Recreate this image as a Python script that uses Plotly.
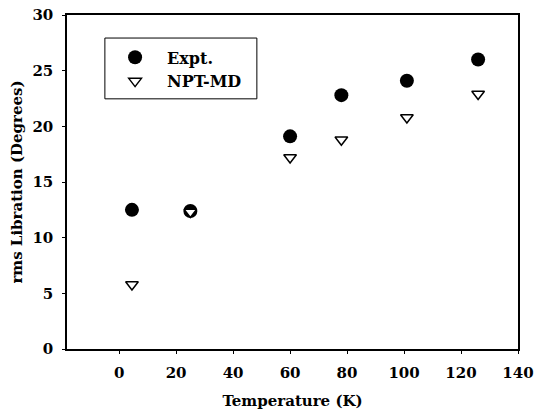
import plotly.graph_objects as go

temps = [4.5, 25, 60, 78, 101, 126]
expt = [12.5, 12.4, 19.1, 22.8, 24.1, 26.0]
npt_md = [5.8, 12.3, 17.2, 18.8, 20.8, 22.9]

x_ticks = [0, 20, 40, 60, 80, 100, 120, 140]
y_ticks = [0, 5, 10, 15, 20, 25, 30]

font_family = "DejaVu Serif, Liberation Serif, serif"

fig = go.Figure()
fig.add_trace(go.Scatter(
    x=temps, y=expt, mode="markers", name="<b>Expt.</b>",
    marker=dict(symbol="circle", size=14, color="black", line=dict(width=0)),
))
fig.add_trace(go.Scatter(
    x=temps, y=npt_md, mode="markers", name="<b>NPT-MD</b>",
    marker=dict(symbol="triangle-down", size=11, color="white",
                line=dict(width=1.5, color="black")),
))

axis_common = dict(
    showline=True, linecolor="black", linewidth=1.5, mirror=True,
    showgrid=False, zeroline=False, automargin=False,
    ticks="outside", ticklen=3, tickcolor="black",
    ticklabeloverflow="allow",
    tickfont=dict(family=font_family, size=15, color="black"),
)

# legend frame
fig.add_shape(type="rect", xref="paper", yref="paper",
              x0=0.084, x1=0.421, y0=0.749, y1=0.931,
              line=dict(color="black", width=1), fillcolor="white", layer="below")

fig.update_layout(
    template="none",
    width=535, height=412,
    margin=dict(l=67, r=17, t=15, b=63),
    paper_bgcolor="white", plot_bgcolor="white",
    font=dict(family=font_family, color="black"),
    showlegend=True,
    legend=dict(
        x=0.08, y=0.924, xanchor="left", yanchor="top",
        borderwidth=0, bgcolor="rgba(0,0,0,0)",
        font=dict(family=font_family, size=16, color="black"),
        itemwidth=54, tracegroupgap=0,
    ),
    xaxis=dict(
        range=[-18.3, 140], tickvals=x_ticks,
        ticktext=["<b>%d</b>" % v for v in x_ticks],
        ticklabelstandoff=6,
        title=dict(text="<b>Temperature (K)</b>", font=dict(family=font_family, size=15, color="black"), standoff=15),
        **axis_common,
    ),
    yaxis=dict(
        range=[0, 30], tickvals=y_ticks,
        ticktext=["<b>%d</b>" % v for v in y_ticks],
        ticklabelstandoff=6,
        title=dict(text="<b>rms Libration (Degrees)</b>", font=dict(family=font_family, size=15, color="black"), standoff=6),
        **axis_common,
    ),
)

fig.write_html("out.html", config={"displayModeBar": False},
               post_script="document.body.style.margin='0';document.body.style.overflow='hidden';")
